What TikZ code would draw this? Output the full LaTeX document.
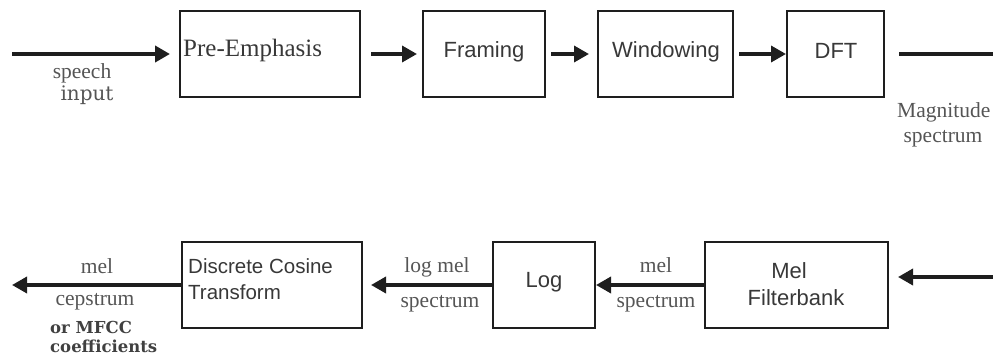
\documentclass[tikz,border=0pt]{standalone}
\usepackage{fontspec}
\setmainfont{Liberation Serif}
\newfontfamily\sansf{Liberation Sans}
\newfontfamily\wideserif{DejaVu Serif}
\usetikzlibrary{arrows.meta}
\definecolor{ink}{HTML}{1E1E1E}
\definecolor{boxtext}{HTML}{383838}
\definecolor{labeltext}{HTML}{555555}
\tikzset{
  block/.style={draw=ink, line width=2pt, minimum height=86pt, inner sep=0pt},
  blocktext/.style={inner sep=0pt, text=boxtext, font=\sansf\fontsize{22}{26.5}\selectfont},
  serifblock/.style={inner sep=0pt, text=boxtext, font=\fontsize{25}{30}\selectfont},
  flow/.style={draw=ink, line width=3.5pt, -{Triangle[length=15pt,width=16pt]}},
  plainflow/.style={draw=ink, line width=3.5pt},
  sig/.style={inner sep=0pt, text=labeltext, font=\fontsize{21.5}{25}\selectfont},
  sigwide/.style={inner sep=0pt, text=labeltext, font=\wideserif\fontsize{20}{24}\selectfont},
  sigbold/.style={inner sep=0pt, text=ink!85, font=\wideserif\bfseries\fontsize{16.5}{19}\selectfont}
}
\begin{document}
\begin{tikzpicture}[x=1pt, y=-1pt]
\useasboundingbox (0,0) rectangle (993,361);

% ---- analysis chain, upper row ----
\node[block, minimum width=180pt] (pre) at (270,54) {};
\node[block, minimum width=122pt] (frm) at (484,54) {};
\node[block, minimum width=135pt] (win) at (665.5,54) {};
\node[block, minimum width=97pt]  (dft) at (835.5,54) {};

\node[serifblock, anchor=base west] (pretxt) at (183,57) {Pre-Emphasis};
\node[blocktext, anchor=base] (frmtxt) at (484,58) {Framing};
\node[blocktext, anchor=base] (wintxt) at (666,58) {Windowing};
\node[blocktext, anchor=base] (dfttxt) at (836,59) {DFT};

\coordinate (src) at (12,54);
\coordinate (mag) at (993,54);

\draw[flow, line width=4.5pt, shorten >=9pt] (src) -- (pre.west);
\draw[flow, shorten <=10pt, shorten >=5pt] (pre.east) -- (frm.west);
\draw[flow, shorten <=5pt, shorten >=8pt] (frm.east) -- (win.west);
\draw[flow, shorten <=5pt, shorten >=0pt] (win.east) -- (dft.west);
\draw[plainflow, shorten <=14pt] (dft.east) -- (mag);

\node[sig, anchor=base] (lspeech) at (82,78) {speech};
\node[sigwide, anchor=base] (linput) at (87,100) {input};
\node[sig, anchor=base west] (lmag) at (897,117) {Magnitude};
\node[sig, anchor=base] (lspec1) at (943,142) {spectrum};

% ---- lower row, right to left ----
\node[block, minimum width=183pt] (mel) at (796.5,285) {};
\node[block, minimum width=102pt] (lg)  at (544,285) {};
\node[block, minimum width=180pt] (dct) at (272,285) {};

% multi-line nodes: the base anchor sits on the last line
\node[blocktext, anchor=base, align=center] (meltxt) at (796,305)
  {Mel\kern14pt\\Filterbank};
\node[blocktext, anchor=base] (lgtxt) at (544,287) {Log};
\node[blocktext, anchor=base west, align=left, font=\sansf\fontsize{20.5}{26}\selectfont]
  (dcttxt) at (188,299) {Discrete Cosine\\Transform};

\coordinate (rin) at (993,277);
\coordinate (out) at (12,285);

\draw[flow, shorten >=9pt] (rin) -- (rin -| mel.east);
\draw[flow, shorten >=0pt] (mel.west) -- (lg.east);
\draw[flow, shorten >=8pt] (lg.west) -- (dct.east);
\draw[flow] (dct.west) -- (out);

\node[sig, anchor=base] (lmel1) at (656,272) {mel};
\node[sig, anchor=base] (lspec2) at (656,307) {spectrum};
\node[sig, anchor=base] (llog) at (437,272) {log mel};
\node[sig, anchor=base] (lspec3) at (440,307) {spectrum};
\node[sig, anchor=base] (lmel2) at (97,273) {mel};
\node[sig, anchor=base] (lcep) at (95,305) {cepstrum};
\node[sigbold, anchor=base west] (lmfcc) at (50,333) {or MFCC};
\node[sigbold, anchor=base west] (lcoef) at (50,352) {coefficients};
\end{tikzpicture}
\end{document}
